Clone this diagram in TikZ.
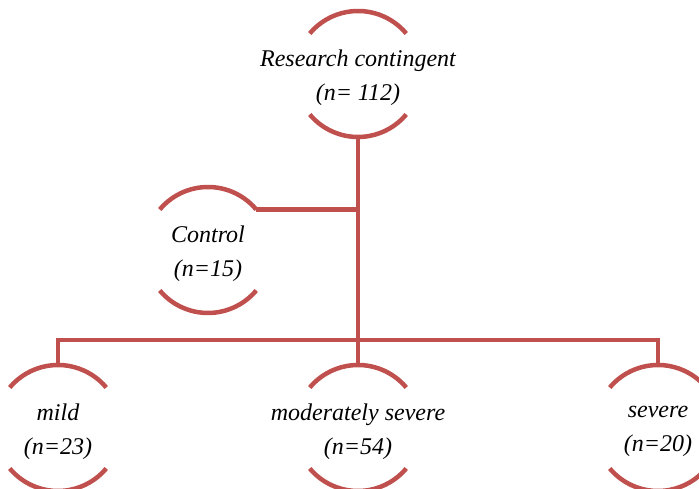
\documentclass[tikz,border=0pt]{standalone}
\usepackage{fontspec}
\setmainfont{Liberation Serif}
\usepackage{xcolor}
\usetikzlibrary{calc}
\definecolor{brick}{HTML}{C0504D}
\newcommand{\halfarcs}[1]{%
  \draw[link] ($(#1)+(40:63)$) arc[start angle=40,end angle=140,radius=63];
  \draw[link] ($(#1)+(220:63)$) arc[start angle=220,end angle=320,radius=63];}

\begin{document}
\begin{tikzpicture}[x=1pt,y=1pt,
  link/.style={draw=brick,line width=4.5pt},
  blob/.style={circle,minimum size=126pt,inner sep=0pt},
  txt/.style={align=center,yshift=-4pt,font=\fontsize{24}{34}\selectfont\itshape,
    execute at begin node={\rule{0pt}{18pt}},execute at end node={\rule[-6pt]{0pt}{6pt}}}]
  \useasboundingbox (0,0) rectangle (699,489);
  \node[blob,label={[txt]center:{Research contingent\\(n= 112)}}] (res) at (358,415) {};
  \node[blob,label={[txt]center:{Control\\(n=15)}}] (ctrl) at (208,239) {};
  \node[blob,label={[txt]center:{mild\\(n=23)}}] (mild) at (58,61) {};
  \node[blob,label={[txt]center:{moderately severe\\(n=54)}}] (mod) at (358,61) {};
  \node[blob,label={[txt]center:{severe\\(n=20)}}] (sev) at (658,61) {};
  \coordinate (bar) at (358,149);
  \halfarcs{res} \halfarcs{ctrl} \halfarcs{mild} \halfarcs{mod} \halfarcs{sev}
  \draw[link] (res.south) -- (bar);
  \draw[link] (ctrl.40) -- (ctrl.40 -| res.south);
  \draw[link] (mild.north) |- (bar) -| (sev.north);
  \draw[link] (bar) -- (mod.north);
\end{tikzpicture}
\end{document}
